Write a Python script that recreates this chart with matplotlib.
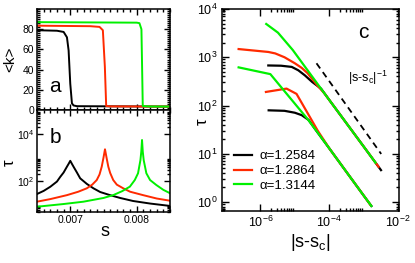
import numpy as np
import matplotlib
matplotlib.use('Agg')
import matplotlib.pyplot as plt
from matplotlib.ticker import MultipleLocator, LogLocator, NullFormatter

plt.rcParams['font.family'] = ['Liberation Sans', 'DejaVu Sans']
plt.rcParams['mathtext.fontset'] = 'custom'
plt.rcParams['mathtext.rm'] = 'Liberation Sans'
plt.rcParams['mathtext.it'] = 'Liberation Sans:italic'
plt.rcParams['axes.linewidth'] = 1.1

BLACK = '#000000'
RED = '#ff2a00'
GREEN = '#00f000'

#####################################################################
# panel a : <k> vs s
#####################################################################
s_a_black = [0.0065, 0.0068, 0.0069, 0.00695, 0.006975, 0.007, 0.007025, 0.00705, 0.0071, 0.0085]
k_black = [79, 78.5, 77.3, 72, 59, 26, 6.6, 4.5, 3.8, 3.4]
s_a_red = [0.0065, 0.0073, 0.00744, 0.00749, 0.00752, 0.00754, 0.0076, 0.0085]
k_red = [83.5, 83, 82.3, 79, 43, 4, 3.6, 3.4]
s_a_green = [0.0065, 0.0080, 0.00804, 0.00807, 0.00808, 0.00809, 0.0082, 0.0085]
k_green = [87, 86.5, 86, 80, 43, 4, 3.5, 3.4]

#####################################################################
# panel b : tau vs s
#####################################################################
s_b_black = [0.0065, 0.0066, 0.0067, 0.0068, 0.00685, 0.0069, 0.00695, 0.006978, 0.007,
             0.007022, 0.007049, 0.0071, 0.007149, 0.00725, 0.007348, 0.00745, 0.007597,
             0.00775, 0.007945, 0.0082, 0.0085]
tau_b_black = [28.0, 38, 57, 95, 151, 230, 407, 556, 724,
               556, 407, 230, 130, 75, 49, 34, 25.1,
               19, 14.1, 11, 8.7]
s_b_red = [0.0065, 0.0067, 0.006951, 0.00712, 0.007249, 0.00733, 0.007398, 0.00744, 0.007473,
           0.0075, 0.007522, 0.007545, 0.007572, 0.0076, 0.007646, 0.0077, 0.007796, 0.0079,
           0.008094, 0.0083, 0.0085]
tau_b_red = [13.2, 17, 25.1, 35, 49, 70, 110, 190, 407,
             1000, 2240, 1000, 407, 220, 110, 70, 49, 35,
             25.1, 18, 14.5]
s_b_green = [0.0065, 0.0069, 0.007199, 0.0075, 0.007646, 0.00778, 0.007896, 0.00797, 0.008019,
             0.008055, 0.008068, 0.008079, 0.00809, 0.008104, 0.008144, 0.0082, 0.008294,
             0.0084, 0.0085]
tau_b_green = [8.05, 10.5, 13.2, 19, 25.1, 37, 57.5, 110, 214,
               776, 1800, 5560, 1800, 776, 214, 110, 67.6,
               42, 30.2]

#####################################################################
# panel c : tau vs |s-sc|
#####################################################################
alphas = ['1.2584', '1.2864', '1.3144']
# upper branch
x_up_black = [1.70e-6, 3.98e-6, 8.13e-6, 1.26e-5, 1.95e-5, 3.16e-5, 5.75e-5, 1e-4, 3.16e-4, 1e-3, 3.16e-3]
t_up_black = [676, 668, 631, 537, 422, 309, 224, 130, 42.7, 14.0, 4.57]
x_up_red = [2.34e-7, 1.70e-6, 2.69e-6, 5.01e-6, 1.0e-5, 1.58e-5, 2.34e-5, 4.57e-5, 7.24e-5, 1e-4, 3.16e-4, 1e-3, 2.69e-3]
t_up_red = [1479, 1288, 1202, 1000, 750, 603, 468, 257, 178, 130, 42.7, 14.0, 5.37]
x_up_green = [1.48e-6, 3.24e-6, 8.71e-6, 7.24e-5, 1e-4, 3.16e-4, 1e-3, 2.19e-3]
t_up_green = [4898, 3236, 1413, 178, 130, 42.7, 14.0, 6.53]
# lower branch
x_lo_black = [1.74e-6, 5.01e-6, 1e-5, 1.58e-5, 2.51e-5, 3.98e-5, 1e-4, 3.16e-4, 1e-3, 1.66e-3]
t_lo_black = [79.4, 77.6, 70.8, 63.1, 50.1, 31.6, 12.9, 4.17, 1.35, 0.826]
x_lo_red = [1.45e-6, 5.75e-6, 1.12e-5, 2.40e-5, 4.68e-5, 1e-4, 3.16e-4, 1e-3, 1.58e-3]
t_lo_red = [191, 224, 174, 67.6, 29.5, 12.9, 4.17, 1.35, 0.86]
x_lo_green = [2.34e-7, 1.95e-6, 2.40e-5, 4.17e-5, 1e-4, 3.16e-4, 1e-3, 1.66e-3]
t_lo_green = [617, 447, 51.3, 30.2, 12.9, 4.17, 1.35, 0.826]
# guide line |s-sc|^-1
x_guide = [4.25e-5, 3.2e-3]
t_guide = [750, 9.9]

#####################################################################
# plots
#####################################################################
fig = plt.figure(figsize=(4.15, 2.63), dpi=100)
ax_a = fig.add_axes([0.0892, 0.5817, 0.3205, 0.384])
ax_b = fig.add_axes([0.0892, 0.1939, 0.3205, 0.3878], sharex=ax_a)
ax_c = fig.add_axes([0.5349, 0.1977, 0.4265, 0.768])

lw = 1.4

ax_a.plot(s_a_black, k_black, color=BLACK, lw=lw)
ax_a.plot(s_a_red, k_red, color=RED, lw=lw)
ax_a.plot(s_a_green, k_green, color=GREEN, lw=lw)
ax_a.set_xlim(0.0065, 0.0085)
ax_a.set_ylim(0, 100)
ax_a.set_yticks([0, 20, 40, 60, 80])
ax_a.yaxis.set_minor_locator(MultipleLocator(2))
ax_a.xaxis.set_major_locator(MultipleLocator(0.001))
ax_a.xaxis.set_minor_locator(MultipleLocator(0.0001))
ax_a.set_ylabel('<k>', fontsize=11)
ax_a.yaxis.set_label_coords(-0.15, 0.5)
ax_a.text(0.135, 0.23, 'a', transform=ax_a.transAxes, fontsize=15, ha='center', va='center')

ax_b.plot(s_b_black, tau_b_black, color=BLACK, lw=lw)
ax_b.plot(s_b_red, tau_b_red, color=RED, lw=lw)
ax_b.plot(s_b_green, tau_b_green, color=GREEN, lw=lw)
ax_b.set_yscale('log')
ax_b.set_ylim(4.8, 1.05e5)
ax_b.yaxis.set_major_locator(LogLocator(base=100))
ax_b.yaxis.set_minor_locator(LogLocator(base=100, subs=np.arange(2, 10)))
ax_b.yaxis.set_minor_formatter(NullFormatter())
ax_b.set_xticks([0.007, 0.008])
ax_b.set_xticklabels(['0.007', '0.008'])
ax_b.set_xlabel('s', fontsize=13)
ax_b.xaxis.set_label_coords(0.51, -0.11)
ax_b.set_ylabel('τ', fontsize=12)
ax_b.yaxis.set_label_coords(-0.155, 0.48)
ax_b.text(0.135, 0.735, 'b', transform=ax_b.transAxes, fontsize=15, ha='center', va='center')

for ax in (ax_a, ax_b):
    ax.tick_params(which='both', direction='in', top=True, right=True, labelsize=7.5, width=1.0, pad=2)
    ax.tick_params(which='major', length=4)
    ax.tick_params(which='minor', length=2)
ax_a.tick_params(labelbottom=False)

cols = [BLACK, RED, GREEN]
ups = [(x_up_black, t_up_black), (x_up_red, t_up_red), (x_up_green, t_up_green)]
los = [(x_lo_black, t_lo_black), (x_lo_red, t_lo_red), (x_lo_green, t_lo_green)]
for col, a, (xu, tu), (xl, tl) in zip(cols, alphas, ups, los):
    ax_c.plot(xu, tu, color=col, lw=1.6, label='α=' + a)
    ax_c.plot(xl, tl, color=col, lw=1.6)
ax_c.plot(x_guide, t_guide, color=BLACK, lw=1.3, ls=(0, (3.5, 2.5)))
ax_c.set_xscale('log')
ax_c.set_yscale('log')
ax_c.set_xlim(7.7e-8, 1.05e-2)
ax_c.set_ylim(0.65, 1.0e4)
ax_c.xaxis.set_major_locator(LogLocator(base=100))
ax_c.xaxis.set_minor_locator(LogLocator(base=100, subs=np.arange(2, 10)))
ax_c.xaxis.set_minor_formatter(NullFormatter())
ax_c.yaxis.set_major_locator(LogLocator(base=10))
ax_c.yaxis.set_minor_locator(LogLocator(base=10, subs=np.arange(2, 10)))
ax_c.yaxis.set_minor_formatter(NullFormatter())
ax_c.tick_params(which='both', direction='in', top=True, right=True, labelsize=9, width=1.0, pad=3)
ax_c.tick_params(which='major', length=5)
ax_c.tick_params(which='minor', length=2.5)
ax_c.set_xlabel(r'|s-s$_\mathrm{c}$|', fontsize=13)
ax_c.xaxis.set_label_coords(0.5, -0.105)
ax_c.set_ylabel('τ', fontsize=12)
ax_c.yaxis.set_label_coords(-0.07, 0.44)
ax_c.text(0.797, 0.886, 'c', transform=ax_c.transAxes, fontsize=15, ha='center', va='center')
ax_c.text(0.825, 0.658, r'|s-s$_\mathrm{c}$|$^{\mathrm{-1}}$', transform=ax_c.transAxes,
          fontsize=9, ha='center', va='center')
ax_c.legend(loc='center left', bbox_to_anchor=(0.07, 0.198), frameon=False, fontsize=9.5,
            handlelength=1.3, handletextpad=0.6, labelspacing=0.2, borderpad=0, borderaxespad=0)

fig.savefig('out.png', dpi=100)
